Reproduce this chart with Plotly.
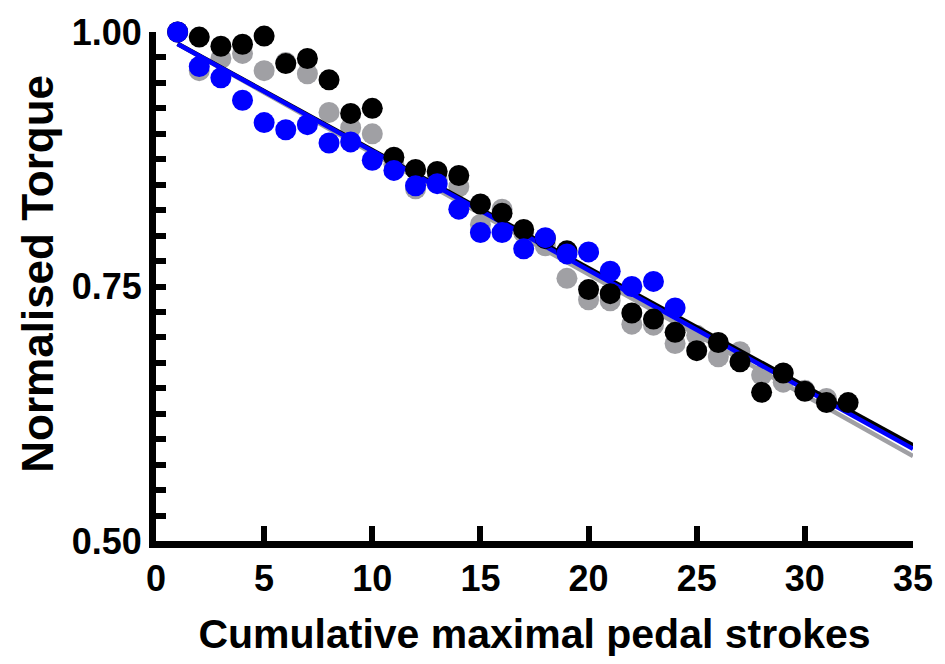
import plotly.graph_objects as go

# Pedal stroke number
strokes_black = list(range(1, 33))
strokes_grey = list(range(1, 32))
strokes_blue = list(range(1, 25))

# Torque normalised to the first stroke
torque_black = [1.000, 0.995, 0.986, 0.988, 0.996, 0.969, 0.974, 0.953, 0.920, 0.925,
                0.877, 0.865, 0.863, 0.859, 0.831, 0.822, 0.806, 0.797, 0.785, 0.747,
                0.743, 0.724, 0.718, 0.705, 0.687, 0.695, 0.676, 0.646, 0.665, 0.647,
                0.636, 0.636]
torque_grey = [1.000, 0.962, 0.974, 0.979, 0.962, 0.970, 0.959, 0.921, 0.906, 0.900,
               0.870, 0.846, 0.855, 0.848, 0.811, 0.826, 0.803, 0.790, 0.758, 0.737,
               0.736, 0.713, 0.712, 0.694, 0.702, 0.681, 0.686, 0.663, 0.656, 0.648,
               0.640]
torque_blue = [1.000, 0.966, 0.955, 0.933, 0.911, 0.904, 0.909, 0.891, 0.892, 0.874,
               0.864, 0.849, 0.851, 0.826, 0.803, 0.803, 0.787, 0.798, 0.782, 0.784,
               0.765, 0.750, 0.755, 0.729]

# Linear regression parameters (intercept, slope) for each condition
fit_black = [1.000, -0.0116]
fit_grey = [1.000, -0.0119]
fit_blue = [1.000, -0.0117]
fit_range = [1, 35]

x_ticks = [0, 5, 10, 15, 20, 25, 30, 35]
y_ticks = [0.50, 0.75, 1.00]

BLACK = "#000000"
GREY = "#a0a0a4"
BLUE = "#0000ff"
FONT = "Liberation Sans, Arial, sans-serif"


def fit_line(params):
    b0, b1 = params
    return [b0 + b1 * x for x in fit_range]


def markers(x, y, color):
    return go.Scatter(x=x, y=y, mode="markers", cliponaxis=False,
                      marker=dict(size=21, color=color, line=dict(width=0)),
                      showlegend=False, hoverinfo="x+y")


def line(params, color):
    return go.Scatter(x=fit_range, y=fit_line(params), mode="lines",
                      line=dict(color=color, width=4.5), showlegend=False,
                      hoverinfo="skip")


fig = go.Figure()
fig.add_trace(markers(strokes_grey, torque_grey, GREY))
fig.add_trace(line(fit_grey, GREY))
fig.add_trace(line(fit_black, BLACK))
fig.add_trace(line(fit_blue, BLUE))
fig.add_trace(markers(strokes_black, torque_black, BLACK))
fig.add_trace(markers(strokes_blue, torque_blue, BLUE))

fig.update_layout(
    width=945, height=664,
    margin=dict(l=156, r=27, t=25, b=123),
    plot_bgcolor="white", paper_bgcolor="white",
    font=dict(family=FONT, color="black"),
)

fig.update_xaxes(
    range=[0, 35], tickvals=x_ticks, ticktext=[str(v) for v in x_ticks],
    showgrid=False, zeroline=False,
    showline=True, linecolor="black", linewidth=7,
    ticks="inside", ticklen=15, tickwidth=6, tickcolor="black",
    tickfont=dict(size=36, family=FONT, weight="bold"),
    title=dict(text="Cumulative maximal pedal strokes",
               font=dict(size=41, family=FONT, weight="bold"), standoff=24),
)

fig.update_yaxes(
    range=[0.5, 1.0], tickvals=y_ticks, ticktext=[f"{v:.2f}" for v in y_ticks],
    showgrid=False, zeroline=False,
    showline=True, linecolor="black", linewidth=7,
    ticks="inside", ticklen=10, tickwidth=6, tickcolor="black",
    minor=dict(dtick=0.025, tick0=0.5, ticks="inside", ticklen=10,
               tickwidth=6, tickcolor="black", showgrid=False),
    tickfont=dict(size=36, family=FONT, weight="bold"),
)

# Y-axis title, sitting slightly above the vertical centre of the axis
fig.add_annotation(
    text="Normalised Torque", textangle=-90,
    xref="paper", yref="paper", x=-0.156, y=0.525,
    xanchor="center", yanchor="middle", showarrow=False,
    font=dict(size=44, family=FONT, weight="bold", color="black"),
)

fig.write_html("out.html")
